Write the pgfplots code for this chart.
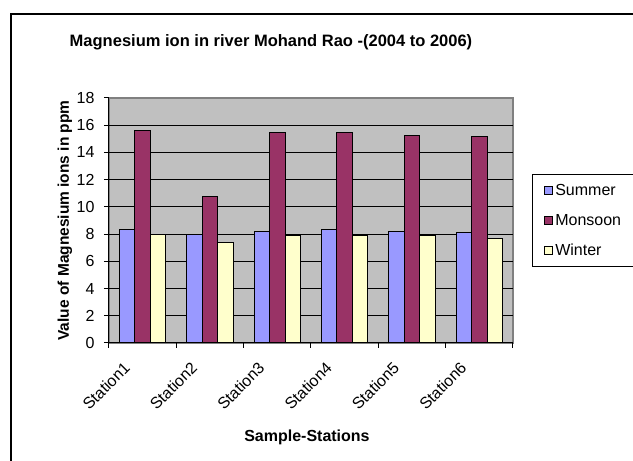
\documentclass[border=0pt]{standalone}
\usepackage{pgfplots}
\pgfplotsset{compat=1.18}
\usepackage{fontspec}
\setmainfont{Liberation Sans}
\definecolor{summer}{HTML}{9999FF}
\definecolor{monsoon}{HTML}{993366}
\definecolor{winter}{HTML}{FFFFCC}
\definecolor{plotbg}{HTML}{C0C0C0}
\definecolor{edgegray}{HTML}{808080}

\pgfplotstableread{
x summer monsoon winter
0 8.32 15.60 7.98
1 7.98 10.76 7.39
2 8.20 15.49 7.88
3 8.32 15.49 7.88
4 8.20 15.27 7.88
5 8.10 15.20 7.67
}\mgdata

\begin{document}
\begin{tikzpicture}[x=1pt,y=1pt]
\useasboundingbox (0,0) rectangle (633,461);
\clip (0,0) rectangle (633,461);
\fill[white] (0,0) rectangle (633,461);
\draw[line width=1.6pt] (11,-30) rectangle (720,447);
\node[font=\fontsize{16.5}{18}\selectfont\bfseries] at (271,419) {Magnesium ion in river Mohand Rao -(2004 to 2006)};
\begin{axis}[
    at={(109pt,118pt)}, anchor=south west,
    width=404pt, height=245pt, scale only axis,
    ybar=0pt, bar width=15.5pt,
    xmin=-0.5, xmax=5.5,
    ymin=0, ymax=18,
    ytick={0,2,...,18},
    xtick={-0.5,0.5,...,5.5},
    xticklabels={Station1,Station2,Station3,Station4,Station5,Station6},
    x tick label as interval,
    extra y ticks={2,4,...,16},
    extra y tick labels={},
    extra y tick style={grid=major, major tick length=0pt},
    grid style={black, line width=0.8pt},
    axis background/.style={fill=plotbg, draw=edgegray, line width=1.2pt},
    axis x line*=bottom, axis y line*=left,
    axis line style={black, line width=1pt, -},
    tick style={black, line width=1pt},
    tick align=outside, major tick length=5pt,
    tick label style={font=\fontsize{16}{18}\selectfont},
    /pgf/number format/assume math mode=true,
    yticklabel style={xshift=-6pt},
    xticklabel style={xshift=-20pt, yshift=-8pt, rotate=45, anchor=north east},
    xlabel={Sample-Stations},
    ylabel={Value of Magnesium ions in ppm},
    xlabel style={font=\fontsize{16}{18}\selectfont\bfseries, at={(axis description cs:0.49,0)}, anchor=center, yshift=-94pt},
    ylabel style={font=\fontsize{15.5}{18}\selectfont\bfseries, at={(axis description cs:0,0.5)}, anchor=center, yshift=44pt},
    legend style={at={(1.047,0.69)}, anchor=north west, draw=black, line width=1pt,
        font=\fontsize{16}{18}\selectfont, row sep=13pt, inner xsep=12pt, inner ysep=8pt,
        legend cell align=left},
    legend image code/.code={\draw[#1, draw=black, line width=0.8pt] (0pt,-4pt) rectangle (8pt,4pt);},
]
\addplot[fill=summer, draw=black, line width=1pt] table[x=x, y=summer] {\mgdata};
\addlegendentry{Summer}
\addplot[fill=monsoon, draw=black, line width=1pt] table[x=x, y=monsoon] {\mgdata};
\addlegendentry{Monsoon}
\addplot[fill=winter, draw=black, line width=1pt] table[x=x, y=winter] {\mgdata};
\addlegendentry{Winter}
\end{axis}
\end{tikzpicture}
\end{document}
